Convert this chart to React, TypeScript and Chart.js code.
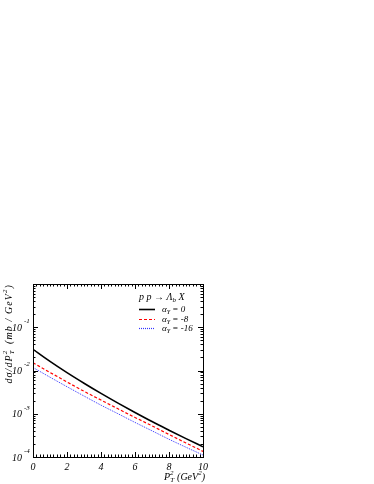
import React, { useEffect, useRef } from "react";
import { Chart, registerables } from "chart.js";

Chart.register(...registerables);

const pt2Values = [0, 1, 2, 3, 4, 5, 6, 7, 8, 9, 10];
const alpha0 = [0.0309, 0.0162, 0.00891, 0.00507, 0.00295, 0.00176, 0.00107, 0.00066, 0.000417, 0.000266, 0.000172];
const alphaM8 = [0.0151, 0.00902, 0.00543, 0.00331, 0.00207, 0.0013, 0.000822, 0.000525, 0.000331, 0.000211, 0.000135];
const alphaM16 = [0.01175, 0.007, 0.00422, 0.00257, 0.00158, 0.001, 0.00063, 0.000403, 0.000257, 0.000168, 0.000111];
const seriesLabels = ["= 0", "= -8", "= -16"];
const seriesColors = ["#000000", "#ff0000", "#3333ff"];
const seriesDash = [[], [3, 2], [1, 1]];
const seriesWidth = [1.6, 1.2, 1];
const xTickValues = [0, 2, 4, 6, 8, 10];
const yDecades = [-4, -3, -2, -1];

const SERIF = "'Liberation Serif', 'DejaVu Serif', serif";

type Part = { t: string; size: number; dy: number; dx?: number };

function drawParts(ctx: CanvasRenderingContext2D, parts: Part[], x: number, y: number) {
  let cx = x;
  for (const p of parts) {
    ctx.font = `italic ${p.size}px ${SERIF}`;
    cx += p.dx || 0;
    ctx.fillText(p.t, cx, y + p.dy);
    cx += ctx.measureText(p.t).width;
  }
}
function partsWidth(ctx: CanvasRenderingContext2D, parts: Part[]) {
  let w = 0;
  for (const p of parts) {
    ctx.font = `italic ${p.size}px ${SERIF}`;
    w += ctx.measureText(p.t).width + (p.dx || 0);
  }
  return w;
}

const decorPlugin = {
  id: "decor",
  afterDraw(chart: any) {
    const ctx: CanvasRenderingContext2D = chart.ctx;
    const { left, right, top, bottom } = chart.chartArea;
    const xs = chart.scales.x;
    const ys = chart.scales.y;
    ctx.save();
    ctx.strokeStyle = "#000";
    ctx.lineWidth = 1;
    ctx.strokeRect(Math.round(left) + 0.5, Math.round(top) + 0.5, Math.round(right - left), Math.round(bottom - top));
    ctx.beginPath();
    for (let i = 0; i <= 50; i++) {
      const v = i * 0.2;
      const px = Math.round(xs.getPixelForValue(v)) + 0.5;
      const len = i % 10 === 0 ? 5 : 2.5;
      ctx.moveTo(px, bottom);
      ctx.lineTo(px, bottom - len);
      ctx.moveTo(px, top);
      ctx.lineTo(px, top + len);
    }
    for (let k = -4; k <= 0; k++) {
      for (let m = 1; m <= 9; m++) {
        const v = m * Math.pow(10, k);
        if (v > 1.0000001) continue;
        const py = Math.round(ys.getPixelForValue(v)) + 0.5;
        const len = m === 1 ? 5 : 2.5;
        ctx.moveTo(left, py);
        ctx.lineTo(left + len, py);
        ctx.moveTo(right, py);
        ctx.lineTo(right - len, py);
      }
    }
    ctx.stroke();

    // y labels
    ctx.fillStyle = "#000";
    for (const k of yDecades) {
      const py = ys.getPixelForValue(Math.pow(10, k));
      ctx.font = `italic 10px ${SERIF}`;
      ctx.textAlign = "right";
      ctx.textBaseline = "middle";
      ctx.fillText("10", 22, py + 1);
      ctx.font = `italic 7px ${SERIF}`;
      ctx.textAlign = "left";
      ctx.fillText(String(k), 24, py - 6);
    }
    ctx.textAlign = "left";
    ctx.textBaseline = "alphabetic";

    // y title
    (ctx as any).letterSpacing = "1.1px";
    const yParts: Part[] = [
      { t: "dσ/dP", size: 10, dy: 0 },
      { t: "T", size: 7, dy: 2 },
      { t: "2", size: 7, dy: -5, dx: -5 },
      { t: " (mb / GeV", size: 10, dy: 0, dx: 2 },
      { t: "2", size: 7, dy: -5 },
      { t: ")", size: 10, dy: 0 },
    ];
    const wY = partsWidth(ctx, yParts);
    ctx.save();
    ctx.translate(12, top + wY);
    ctx.rotate(-Math.PI / 2);
    drawParts(ctx, yParts, 0, 0);
    ctx.restore();
    (ctx as any).letterSpacing = "0px";

    // x title
    const xParts: Part[] = [
      { t: "P", size: 10, dy: 0 },
      { t: "T", size: 7, dy: 2 },
      { t: "2", size: 7, dy: -5, dx: -4 },
      { t: " (GeV", size: 10, dy: 0, dx: 1 },
      { t: "2", size: 7, dy: -5 },
      { t: ")", size: 10, dy: 0 },
    ];
    const wX = partsWidth(ctx, xParts);
    drawParts(ctx, xParts, right + 2 - wX, 480);

    // legend
    const lx = 139;
    drawParts(
      ctx,
      [
        { t: "p p → Λ", size: 10, dy: 0 },
        { t: "b", size: 7, dy: 2 },
        { t: " X", size: 10, dy: 0 },
      ],
      lx,
      300
    );
    const rows = [309, 319, 328];
    rows.forEach((ry, i) => {
      ctx.save();
      ctx.strokeStyle = seriesColors[i];
      ctx.lineWidth = i === 0 ? 1.6 : 1.2;
      ctx.setLineDash(seriesDash[i]);
      ctx.beginPath();
      ctx.moveTo(lx, ry + 0.5);
      ctx.lineTo(lx + 16, ry + 0.5);
      ctx.stroke();
      ctx.restore();
      ctx.fillStyle = "#000";
      drawParts(
        ctx,
        [
          { t: "α", size: 9, dy: 0 },
          { t: "Y", size: 6, dy: 2 },
          { t: " " + seriesLabels[i], size: 9, dy: 0 },
        ],
        lx + 23,
        ry + 3
      );
    });
    ctx.restore();
  },
};

export default function App() {
  const ref = useRef<HTMLCanvasElement | null>(null);
  useEffect(() => {
    if (!ref.current) return;
    const mk = (vals: number[]) => pt2Values.map((x, i) => ({ x, y: vals[i] }));
    const series = [alpha0, alphaM8, alphaM16];
    const chart = new Chart(ref.current, {
      type: "line",
      data: {
        datasets: series.map((vals, i) => ({
          label: seriesLabels[i],
          data: mk(vals),
          borderColor: seriesColors[i],
          borderWidth: seriesWidth[i],
          borderDash: seriesDash[i],
          pointRadius: 0,
          cubicInterpolationMode: "monotone",
          fill: false,
        })),
      },
      options: {
        responsive: false,
        animation: false,
        layout: { padding: { left: 0, right: 171, top: 284, bottom: 0 } },
        plugins: { legend: { display: false }, tooltip: { enabled: false } },
        scales: {
          x: {
            type: "linear",
            min: 0,
            max: 10,
            grid: { display: false, drawTicks: false },
            border: { display: false },
            afterBuildTicks: (s: any) => {
              s.ticks = xTickValues.map((v) => ({ value: v }));
            },
            ticks: {
              font: { family: SERIF, style: "italic", size: 10 },
              color: "#000",
              padding: 4,
              maxRotation: 0,
              autoSkip: false,
            },
            afterFit: (s: any) => {
              s.height = 27;
              s.paddingLeft = 0;
              s.paddingRight = 0;
            },
          },
          y: {
            type: "logarithmic",
            min: 1e-4,
            max: 1,
            grid: { display: false, drawTicks: false },
            border: { display: false },
            ticks: { display: false },
            afterFit: (s: any) => {
              s.width = 33;
              s.paddingTop = 0;
              s.paddingBottom = 0;
            },
          },
        },
      },
      plugins: [decorPlugin],
    } as any);
    return () => chart.destroy();
  }, []);
  return (
    <div style={{ position: "absolute", left: 0, top: 0, width: 374, height: 484, background: "#fff" }}>
      <canvas ref={ref} width={374} height={484} style={{ width: 374, height: 484, display: "block" }} />
    </div>
  );
}
